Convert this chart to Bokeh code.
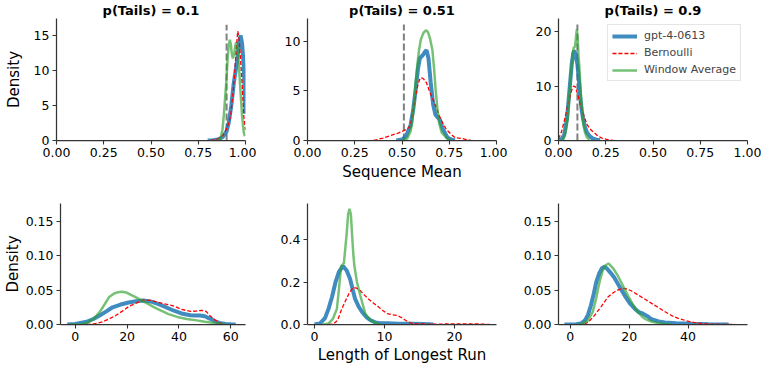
from bokeh.plotting import figure
from bokeh.layouts import column, row
from bokeh.models import FixedTicker, Range1d, Legend, LegendItem, PrintfTickFormatter
from bokeh.embed import file_html
from bokeh.resources import INLINE

# ---------------- data ----------------
titles = ["p(Tails) = 0.1", "p(Tails) = 0.51", "p(Tails) = 0.9"]
series_names = ["gpt-4-0613", "Bernoulli", "Window Average"]

# vertical reference lines (sequence-mean panels)
vline_x = [0.9, 0.51, 0.1]
vline_top = [16.5, 11.7, 21.3]

# ---- Sequence mean panels ----
sm_blue_x = [
    [0.80, 0.83, 0.86, 0.88, 0.90, 0.912, 0.925, 0.938, 0.948, 0.956, 0.965, 0.974, 0.982, 0.991, 1.0],
    [0.47, 0.50, 0.52, 0.545, 0.56, 0.572, 0.585, 0.595, 0.61, 0.62, 0.630, 0.64, 0.652, 0.665, 0.677, 0.69, 0.70, 0.715, 0.74, 0.76, 0.78],
    [0.0, 0.015, 0.03, 0.045, 0.06, 0.07, 0.078, 0.083, 0.09, 0.1, 0.108, 0.115, 0.123, 0.13, 0.14, 0.15, 0.165, 0.18, 0.2, 0.22],
]
sm_blue_y = [
    [0.0, 0.05, 0.2, 0.5, 1.3, 2.6, 5.0, 8.2, 10.0, 11.5, 13.8, 15.0, 13.8, 10.5, 3.8],
    [0.0, 0.1, 0.4, 1.5, 3.2, 5.1, 7.3, 8.3, 8.6, 8.9, 9.1, 8.3, 5.8, 3.6, 2.6, 2.3, 2.1, 1.2, 0.3, 0.1, 0.0],
    [0.0, 0.2, 1.0, 4.0, 10.0, 14.0, 16.0, 16.5, 16.0, 14.0, 11.0, 8.0, 5.5, 4.0, 2.5, 1.5, 0.8, 0.4, 0.15, 0.05],
]
sm_red_x = [
    [0.815, 0.84, 0.86, 0.88, 0.895, 0.91, 0.921, 0.933, 0.944, 0.952, 0.959, 0.966, 0.974, 0.982, 0.991, 1.0],
    [0.35, 0.37, 0.40, 0.44, 0.48, 0.51, 0.53, 0.545, 0.563, 0.58, 0.592, 0.602, 0.615, 0.63, 0.643, 0.66, 0.678, 0.695, 0.714, 0.735, 0.758, 0.78, 0.80, 0.82, 0.84, 0.865],
    [0.0, 0.015, 0.03, 0.05, 0.07, 0.08, 0.088, 0.1, 0.112, 0.125, 0.14, 0.15, 0.165, 0.177, 0.19, 0.21, 0.23, 0.25, 0.27, 0.29],
]
sm_red_y = [
    [0.0, 0.1, 0.3, 0.7, 1.4, 2.4, 3.5, 6.5, 10.0, 13.5, 15.6, 14.5, 11.5, 8.2, 3.5, 1.5],
    [0.0, 0.1, 0.25, 0.5, 0.75, 1.0, 1.2, 1.5, 3.5, 5.3, 6.1, 6.35, 6.2, 5.8, 5.1, 4.3, 3.5, 2.6, 1.8, 1.1, 0.66, 0.3, 0.25, 0.2, 0.1, 0.0],
    [0.3, 1.5, 3.5, 6.5, 9.3, 10.0, 9.9, 8.7, 7.0, 5.5, 4.0, 3.0, 2.2, 1.8, 1.4, 0.8, 0.45, 0.25, 0.1, 0.0],
]
sm_green_x = [
    [0.85, 0.868, 0.878, 0.885, 0.892, 0.898, 0.906, 0.912, 0.917, 0.922, 0.928, 0.933, 0.940, 0.946, 0.951, 0.957, 0.965, 0.974, 0.982, 0.99, 0.996],
    [0.50, 0.528, 0.545, 0.554, 0.563, 0.572, 0.582, 0.590, 0.60, 0.612, 0.622, 0.630, 0.638, 0.648, 0.661, 0.670, 0.678, 0.687, 0.696, 0.71, 0.74, 0.76],
    [0.02, 0.027, 0.04, 0.05, 0.062, 0.072, 0.08, 0.088, 0.094, 0.097, 0.101, 0.106, 0.11, 0.115, 0.12, 0.127, 0.133, 0.14, 0.15, 0.165],
]
sm_green_y = [
    [0.0, 0.3, 1.5, 3.5, 6.0, 8.2, 11.9, 13.8, 14.35, 13.8, 12.3, 11.7, 12.3, 13.5, 14.0, 13.3, 10.8, 6.8, 3.5, 1.3, 0.6],
    [0.0, 0.2, 0.9, 1.8, 3.6, 5.8, 7.8, 9.1, 10.2, 10.8, 11.05, 11.1, 10.9, 10.3, 9.1, 7.2, 5.1, 3.3, 1.8, 0.8, 0.2, 0.0],
    [0.0, 0.3, 2.0, 4.5, 10.6, 15.0, 17.0, 17.3, 19.5, 20.4, 19.0, 15.5, 13.6, 10.5, 7.6, 4.8, 2.7, 1.5, 0.6, 0.1],
]

# ---- Longest run panels ----
lr_blue_x = [
    [-3.1, 0, 4.4, 7, 9.4, 12, 14.4, 17.5, 20.6, 23.5, 26.3, 29, 31.9, 35, 38.1, 41, 44.4, 46.5, 48.1, 50, 51.9, 53.8, 55.6, 58, 60, 61.9],
    [0, 0.8, 1.5, 2.0, 2.5, 3.0, 3.5, 4.07, 4.6, 5.1, 5.5, 5.8, 6.3, 6.8, 7.4, 8.0, 8.7, 9.4, 10.5, 12, 14, 15.5, 17],
    [-2, 0, 2, 3.6, 5, 6, 7, 8, 8.8, 9.8, 10.8, 11.6, 12.5, 13.7, 15, 16.7, 18.5, 20.2, 21.9, 23.3, 24.7, 26.2, 27.6, 30, 32.1, 36, 41.2, 47, 53.8],
]
lr_blue_y = [
    [0, 0.0008, 0.004, 0.008, 0.013, 0.019, 0.025, 0.029, 0.032, 0.0338, 0.0347, 0.0335, 0.030, 0.025, 0.020, 0.016, 0.0135, 0.013, 0.013, 0.012, 0.0086, 0.005, 0.0024, 0.0008, 0.0002, 0],
    [0, 0.005, 0.03, 0.074, 0.13, 0.2, 0.25, 0.276, 0.255, 0.214, 0.16, 0.121, 0.085, 0.059, 0.035, 0.02, 0.01, 0.006, 0.006, 0.004, 0.003, 0.002, 0],
    [0, 0.0001, 0.0004, 0.0014, 0.006, 0.014, 0.0276, 0.045, 0.061, 0.074, 0.082, 0.0838, 0.081, 0.075, 0.068, 0.055, 0.042, 0.031, 0.023, 0.018, 0.0157, 0.012, 0.0076, 0.0045, 0.0029, 0.0018, 0.001, 0.0005, 0],
]
lr_red_x = [
    [4.4, 7.5, 10.6, 13, 15.6, 18, 20.6, 23.5, 26.3, 29, 31.9, 35, 38.1, 41, 44.4, 46.5, 48.8, 50.5, 51.9, 53.8, 55.6, 57.4],
    [2.0, 2.7, 3.3, 3.9, 4.4, 4.9, 5.3, 5.6, 6.0, 6.55, 7.1, 7.7, 8.4, 9.2, 9.8, 10.4, 11.1, 11.8, 12.4, 13.0, 13.6, 14.2, 16, 18, 20, 22, 24, 25],
    [4.8, 6.5, 8.2, 10.5, 12.7, 14.2, 15.6, 17, 17.9, 19.3, 20.7, 23, 25.3, 27.5, 29.8, 32, 34.4, 36.7, 39, 41.2, 43.5, 46, 48.1, 52, 56],
]
lr_red_y = [
    [0, 0.001, 0.004, 0.008, 0.013, 0.019, 0.026, 0.031, 0.0355, 0.035, 0.0324, 0.0295, 0.0267, 0.022, 0.019, 0.0195, 0.0205, 0.019, 0.013, 0.007, 0.0025, 0],
    [0, 0.002, 0.02, 0.074, 0.11, 0.144, 0.165, 0.175, 0.172, 0.16, 0.14, 0.121, 0.102, 0.082, 0.065, 0.051, 0.046, 0.043, 0.033, 0.02, 0.009, 0.004, 0.002, 0.002, 0.003, 0.003, 0.002, 0],
    [0, 0.005, 0.013, 0.026, 0.0395, 0.045, 0.049, 0.0515, 0.0524, 0.0515, 0.049, 0.043, 0.037, 0.031, 0.025, 0.019, 0.013, 0.009, 0.006, 0.0035, 0.0019, 0.001, 0.0005, 0.0002, 0],
]
lr_green_x = [
    [-2, 2, 4.4, 7, 9.4, 11.3, 13.1, 15, 16.5, 18.1, 20, 21.5, 23.1, 25.5, 28.1, 30.5, 33.1, 36, 39.4, 43, 46.9, 50, 53.1, 55.6, 58],
    [1.2, 2.0, 2.6, 3.2, 3.5, 3.8, 4.2, 4.6, 4.8, 5.0, 5.2, 5.36, 5.55, 5.7, 6.07, 6.55, 7.26, 8.0, 8.9, 9.5],
    [2.5, 4.2, 6, 7.6, 8.8, 9.9, 11, 12, 13, 14.5, 16.2, 17.9, 19.6, 21.3, 23, 24.5, 25.9, 27.8, 29.8, 32, 34.4],
]
lr_green_y = [
    [0, 0.0005, 0.002, 0.008, 0.018, 0.029, 0.040, 0.045, 0.047, 0.0476, 0.046, 0.043, 0.040, 0.035, 0.030, 0.025, 0.020, 0.015, 0.011, 0.008, 0.006, 0.004, 0.0025, 0.001, 0],
    [0, 0.005, 0.025, 0.074, 0.17, 0.276, 0.29, 0.43, 0.52, 0.547, 0.52, 0.43, 0.33, 0.276, 0.2, 0.136, 0.051, 0.02, 0.004, 0],
    [0, 0.001, 0.006, 0.018, 0.038, 0.061, 0.078, 0.086, 0.0886, 0.082, 0.0705, 0.056, 0.042, 0.029, 0.018, 0.011, 0.007, 0.004, 0.002, 0.0008, 0],
]

# axis ranges and ticks
sm_x_range = (0.0, 1.0)
sm_y_top = [17.4, 12.3, 22.4]
sm_x_ticks = [0.0, 0.25, 0.5, 0.75, 1.0]
sm_y_ticks = [[0, 5, 10, 15], [0, 5, 10], [0, 10, 20]]

lr_x_ranges = [(-5.7, 65.7), (-1.0, 26.0), (-4.0, 60.2)]
lr_y_top = [0.1757, 0.572, 0.1757]
lr_x_ticks = [[0, 20, 40, 60], [0, 10, 20], [0, 20, 40]]
lr_y_ticks = [[0.0, 0.05, 0.10, 0.15], [0.0, 0.2, 0.4], [0.0, 0.05, 0.10, 0.15]]
lr_y_fmt = ["%.2f", "%.1f", "%.2f"]

# ---------------- style / layout ----------------
FONT = "DejaVu Sans"
BLUE = "#1f77b4"
RED = "#ff0000"
GREEN = "#2ca02c"
AX = "#333333"

WIDTHS = [256, 251, 254]
BLS = [56, 51, 51]
BRS = [11, 11, 14]
TOP_H, TOP_BT, TOP_BB = 190, 16, 50
BOT_H, BOT_BT, BOT_BB = 176, 13, 40


def style_axes(p, xfmt, yfmt, xticks, yticks):
    p.grid.visible = False
    p.outline_line_color = None
    p.background_fill_color = "white"
    p.border_fill_color = "white"
    for ax in (p.xaxis[0], p.yaxis[0]):
        ax.axis_line_color = AX
        ax.axis_line_width = 1.25
        ax.major_tick_line_color = AX
        ax.major_tick_line_width = 1.1
        ax.major_tick_out = 4
        ax.major_tick_in = 0
        ax.minor_tick_line_color = None
        ax.major_label_text_font = FONT
        ax.major_label_text_font_size = "12.5px"
        ax.major_label_text_color = "black"
        ax.major_label_standoff = 3
        ax.axis_label_text_font = FONT
        ax.axis_label_text_font_size = "15px"
        ax.axis_label_text_font_style = "normal"
        ax.axis_label_text_color = "black"
    p.xaxis[0].ticker = FixedTicker(ticks=xticks)
    p.yaxis[0].ticker = FixedTicker(ticks=yticks)
    p.xaxis[0].formatter = PrintfTickFormatter(format=xfmt)
    p.yaxis[0].formatter = PrintfTickFormatter(format=yfmt)


def draw_series(p, bx, by, rx, ry, gx, gy):
    rb = p.line(bx, by, line_color=BLUE, line_width=4, line_alpha=0.85)
    rr = p.line(rx, ry, line_color=RED, line_width=1.3, line_dash="4 2", line_alpha=1.0)
    rg = p.line(gx, gy, line_color=GREEN, line_width=2.5, line_alpha=0.65)
    return rb, rr, rg


top_figs = []
for i in range(3):
    W = WIDTHS[i]
    p = figure(width=W, height=TOP_H, output_backend="svg", toolbar_location=None,
               x_range=Range1d(*sm_x_range), y_range=Range1d(0, sm_y_top[i]),
               min_border_left=BLS[i], min_border_right=BRS[i],
               min_border_top=TOP_BT, min_border_bottom=TOP_BB)
    p.title.text = titles[i]
    p.title.align = "center"
    p.title.text_font = FONT
    p.title.text_font_size = "13px"
    p.title.text_font_style = "bold"
    p.title.text_color = "black"
    p.title.standoff = 1
    style_axes(p, "%.2f", "%d", sm_x_ticks, sm_y_ticks[i])
    p.line([vline_x[i], vline_x[i]], [0, vline_top[i]], line_color="gray", line_width=2, line_dash="7 3")
    rb, rr, rg = draw_series(p, sm_blue_x[i], sm_blue_y[i], sm_red_x[i], sm_red_y[i],
                             sm_green_x[i], sm_green_y[i])
    if i == 0:
        p.yaxis[0].axis_label = "Density"
        p.yaxis[0].axis_label_standoff = 8
    if i == 1:
        p.xaxis[0].axis_label = "Sequence Mean"
        p.xaxis[0].axis_label_standoff = 3
    if i == 2:
        leg = Legend(items=[LegendItem(label=series_names[0], renderers=[rb]),
                            LegendItem(label=series_names[1], renderers=[rr]),
                            LegendItem(label=series_names[2], renderers=[rg])],
                     location="top_right")
        leg.label_text_font = FONT
        leg.label_text_font_size = "11px"
        leg.label_height = 12
        leg.glyph_height = 12
        leg.glyph_width = 25
        leg.label_standoff = 7
        leg.spacing = 4
        leg.padding = 4
        leg.margin = 6
        leg.border_line_color = "#cccccc"
        leg.border_line_width = 1
        leg.background_fill_alpha = 0.8
        p.add_layout(leg, "center")
    top_figs.append(p)

bot_figs = []
for i in range(3):
    W = WIDTHS[i]
    p = figure(width=W, height=BOT_H, output_backend="svg", toolbar_location=None,
               x_range=Range1d(*lr_x_ranges[i]), y_range=Range1d(0, lr_y_top[i]),
               min_border_left=BLS[i], min_border_right=BRS[i],
               min_border_top=BOT_BT, min_border_bottom=BOT_BB)
    style_axes(p, "%d", lr_y_fmt[i], lr_x_ticks[i], lr_y_ticks[i])
    draw_series(p, lr_blue_x[i], lr_blue_y[i], lr_red_x[i], lr_red_y[i],
                lr_green_x[i], lr_green_y[i])
    if i == 0:
        p.yaxis[0].axis_label = "Density"
        p.yaxis[0].axis_label_standoff = 1
    if i == 1:
        p.xaxis[0].axis_label = "Length of Longest Run"
        p.xaxis[0].axis_label_standoff = 2
    bot_figs.append(p)

layout = column(row(*top_figs), row(*bot_figs))
open("out.html", "w").write(file_html(layout, INLINE))
